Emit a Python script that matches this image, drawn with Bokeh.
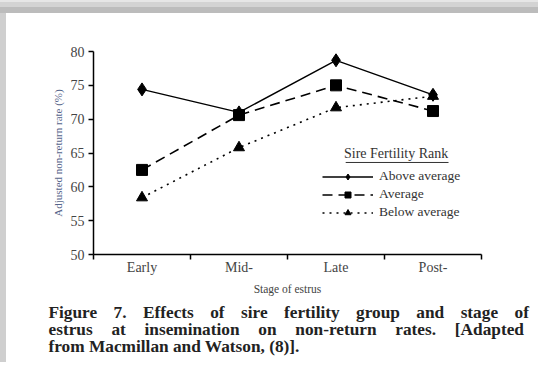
from bokeh.plotting import figure
from bokeh.models import (Range1d, FixedTicker, Legend, LegendItem, Label, Title)
from bokeh.embed import file_html
from bokeh.resources import INLINE

# ---- data ----
stages = ["Early", "Mid-", "Late", "Post-"]
above_average = [74.4, 71.0, 78.7, 73.6]
average = [62.5, 70.6, 75.0, 71.2]
below_average = [58.4, 65.8, 71.7, 73.4]
y_ticks = [50, 55, 60, 65, 70, 75, 80]
series_names = ["Above average", "Average", "Below average"]
legend_title = "Sire Fertility Rank"
x_title = "Stage of estrus"
y_title = "Adjusted non-return rate (%)"
caption_lines = [
    "Figure 7.  Effects of sire fertility group and stage of",
    "estrus at insemination on non-return rates. [Adapted",
    "from Macmillan and Watson, (8)].",
]

SERIF = "Liberation Serif"
NB = "\u00a0"
THIN = "\u2009"
HAIR = "\u200a"
xs = [i + 0.5 for i in range(len(stages))]


def justify(line, gap):
    # widen the word gaps (the printed caption is justified)
    return line.replace("  ", " ").replace(" ", " " + gap)


caption = "\n".join([
    justify(caption_lines[0], NB * 2 + THIN),
    justify(caption_lines[1], NB * 3 + HAIR),
    caption_lines[2],
])

W, H = 538, 362
ML, MR, MT, MB = 93, 57, 51, 108

frame_shadow = ("inset 0 2px 0 0 #e6e6e6, inset 0 7px 0 0 #d3d3d3, "
                "inset 0 13px 0 0 #bcbcbc, inset 6px 0 0 0 #cfcfcf")

p = figure(width=W, height=H, output_backend="svg", toolbar_location=None,
           x_range=Range1d(0, len(stages)), y_range=Range1d(50, 80),
           min_border_left=ML, min_border_right=MR, min_border_top=MT,
           min_border_bottom=MB,
           styles={"background-color": "#ffffff", "box-shadow": frame_shadow})
p.outline_line_color = None
p.grid.visible = False
p.background_fill_color = "white"
p.border_fill_alpha = 0

# lines + markers
r1 = p.line(xs, above_average, line_color="black", line_width=1.4)
m1 = p.scatter(xs, above_average, marker="diamond", size=13, color="black")
r2 = p.line(xs, average, line_color="black", line_width=1.6, line_dash="10 6")
m2 = p.scatter(xs, average, marker="square", size=11, color="black")
r3 = p.line(xs, below_average, line_color="black", line_width=1.6, line_dash="2 5")
m3 = p.scatter(xs, below_average, marker="triangle", size=11, color="black")

# axes
ax = p.xaxis[0]
ax.ticker = FixedTicker(ticks=xs, minor_ticks=list(range(len(stages) + 1)))
ax.major_label_overrides = {x: s for x, s in zip(xs, stages)}
ax.major_tick_out = 0
ax.major_tick_in = 0
ax.minor_tick_out = 5
ax.minor_tick_in = 0
ax.minor_tick_line_color = "black"
ax.minor_tick_line_width = 1.5
ax.axis_line_width = 1.5
ax.axis_label = x_title
ax.axis_label_text_font = SERIF
ax.axis_label_text_font_style = "normal"
ax.axis_label_text_font_size = "11.5px"
ax.axis_label_text_color = "#444444"
ax.axis_label_standoff = 5
ax.major_label_text_font = SERIF
ax.major_label_text_font_size = "14px"
ax.major_label_text_color = "#444444"
ax.major_label_standoff = 0

ay = p.yaxis[0]
ay.ticker = FixedTicker(ticks=y_ticks)
ay.minor_tick_line_color = None
ay.major_tick_out = 5
ay.major_tick_in = 0
ay.major_tick_line_width = 1.5
ay.axis_line_width = 1.5
ay.axis_label = y_title
ay.axis_label_text_font = SERIF
ay.axis_label_text_font_style = "normal"
ay.axis_label_text_font_size = "11px"
ay.axis_label_text_color = "#55648a"
ay.axis_label_standoff = 4
ay.major_label_text_font = SERIF
ay.major_label_text_font_size = "14px"
ay.major_label_text_color = "#444444"
ay.major_label_standoff = 4

# legend
legend = Legend(items=[
    LegendItem(label=series_names[0], renderers=[r1, m1]),
    LegendItem(label=series_names[1], renderers=[r2, m2]),
    LegendItem(label=series_names[2], renderers=[r3, m3]),
], location=(229, 34), glyph_width=51, glyph_height=15, label_height=15, spacing=2,
    label_text_font=SERIF, label_text_font_size="13.5px", label_text_color="#333333",
    label_standoff=6, padding=0, margin=0,
    border_line_color=None, background_fill_alpha=0)
p.add_layout(legend, "center")

# legend title (underlined)
p.add_layout(Label(x=3.12, y=63.8, text=legend_title, text_align="center",
                   text_baseline="bottom", text_font=SERIF, text_font_size="14px",
                   text_color="#333333"))
p.segment(x0=[2.6], y0=[63.6], x1=[3.66], y1=[63.6], line_color="#333333", line_width=1)

# caption
p.add_layout(Title(text=caption, text_font=SERIF, text_font_size="17.3px",
                   text_font_style="bold", text_color="#222222", text_line_height=0.9,
                   align="left", offset=-45, standoff=7), "below")

open("out.html", "w").write(file_html(p, INLINE))
